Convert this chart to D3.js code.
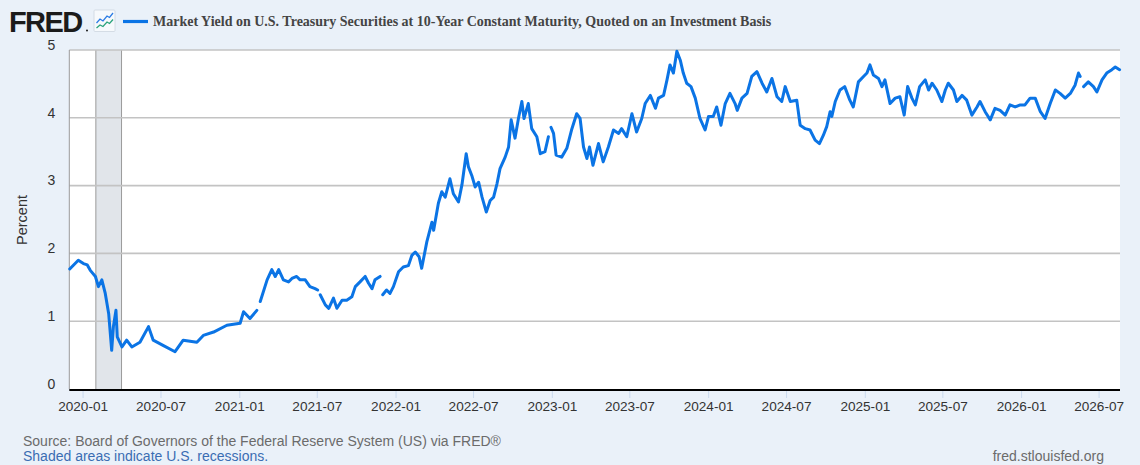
<!DOCTYPE html>
<html>
<head>
<meta charset="utf-8">
<script src="https://cdn.jsdelivr.net/npm/d3@7"></script>
<style>
  html, body { margin: 0; padding: 0; background: #eaf1f9; }
  svg { display: block; font-family: Arial, "Liberation Sans", sans-serif; }
</style>
</head>
<body>
<div id="chart"></div>
<script>
// DATA (null = gap in the series)
const dates = [
  '2019-12-02','2019-12-22','2020-01-03','2020-01-12','2020-01-19','2020-01-31','2020-02-07','2020-02-15','2020-02-23','2020-03-02',
  '2020-03-09','2020-03-13','2020-03-19','2020-03-22','2020-04-02','2020-04-13','2020-04-25','2020-05-14','2020-06-03','2020-06-14',
  '2020-07-08','2020-08-04','2020-08-23','2020-09-24','2020-10-09','2020-11-02','2020-12-03','2021-01-03','2021-01-11','2021-01-26',
  '2021-02-11','2021-02-15','2021-02-19','2021-03-07','2021-03-18','2021-03-26','2021-04-03','2021-04-14','2021-04-26','2021-05-04',
  '2021-05-15','2021-05-23','2021-06-04','2021-06-15','2021-06-27','2021-07-03','2021-07-06','2021-07-09','2021-07-21','2021-07-29',
  '2021-08-09','2021-08-17','2021-08-29','2021-09-09','2021-09-21','2021-09-29','2021-10-10','2021-10-22','2021-10-30','2021-11-07',
  '2021-11-14','2021-11-26','2021-11-29','2021-12-02','2021-12-11','2021-12-19','2021-12-27','2022-01-08','2022-01-19','2022-01-31',
  '2022-02-08','2022-02-16','2022-02-25','2022-03-03','2022-03-15','2022-03-27','2022-03-31','2022-04-11','2022-04-19','2022-04-27',
  '2022-05-08','2022-05-16','2022-05-28','2022-06-05','2022-06-15','2022-06-20','2022-06-28','2022-07-06','2022-07-14','2022-07-22',
  '2022-08-01','2022-08-10','2022-08-18','2022-08-26','2022-09-02','2022-09-14','2022-09-22','2022-09-28','2022-10-07','2022-10-15',
  '2022-10-23','2022-10-28','2022-11-07','2022-11-15','2022-11-27','2022-12-05','2022-12-16','2022-12-24','2022-12-27','2022-12-30',
  '2023-01-05','2023-01-11','2023-01-24','2023-02-05','2023-02-16','2023-02-28','2023-03-08','2023-03-16','2023-03-24','2023-03-30',
  '2023-04-07','2023-04-20','2023-05-01','2023-05-13','2023-05-25','2023-06-06','2023-06-13','2023-06-25','2023-07-07','2023-07-18',
  '2023-07-30','2023-08-07','2023-08-19','2023-08-31','2023-09-07','2023-09-19','2023-09-27','2023-10-04','2023-10-12','2023-10-20',
  '2023-10-28','2023-11-04','2023-11-12','2023-11-22','2023-12-02','2023-12-13','2023-12-25','2024-01-02','2024-01-13','2024-01-21',
  '2024-01-31','2024-02-10','2024-02-21','2024-03-04','2024-03-09','2024-03-20','2024-04-01','2024-04-12','2024-04-24','2024-05-06',
  '2024-05-17','2024-05-29','2024-06-10','2024-06-21','2024-06-29','2024-07-11','2024-07-26','2024-08-03','2024-08-15','2024-08-26',
  '2024-09-07','2024-09-17','2024-09-26','2024-10-04','2024-10-12','2024-10-16','2024-10-24','2024-11-04','2024-11-15','2024-11-27',
  '2024-12-05','2024-12-17','2024-12-29','2025-01-06','2025-01-13','2025-01-21','2025-02-02','2025-02-10','2025-02-17','2025-03-01',
  '2025-03-13','2025-03-24','2025-04-03','2025-04-11','2025-04-21','2025-04-29','2025-05-09','2025-05-22','2025-05-30','2025-06-07',
  '2025-06-18','2025-06-30','2025-07-08','2025-07-15','2025-07-27','2025-08-04','2025-08-16','2025-08-27','2025-09-08','2025-09-20',
  '2025-09-27','2025-10-09','2025-10-21','2025-11-01','2025-11-13','2025-11-25','2025-12-06','2025-12-18','2025-12-30','2026-01-10',
  '2026-01-22','2026-02-03','2026-02-15','2026-02-26','2026-03-10','2026-03-22','2026-04-02','2026-04-14','2026-04-26','2026-05-07',
  '2026-05-15','2026-05-19','2026-05-23','2026-05-27','2026-06-07','2026-06-19','2026-06-27','2026-07-09','2026-07-20','2026-08-01',
  '2026-08-09','2026-08-19'
];
const yields = [
  1.77, 1.90, 1.85, 1.83, 1.75, 1.66, 1.51, 1.61, 1.41, 1.11,
  0.57, 0.92, 1.16, 0.77, 0.62, 0.72, 0.62, 0.69, 0.92, 0.72,
  0.64, 0.55, 0.72, 0.69, 0.79, 0.84, 0.94, 0.97, 1.14, 1.04,
  1.16, null, 1.29, 1.61, 1.76, 1.66, 1.76, 1.61, 1.58, 1.63,
  1.66, 1.61, 1.61, 1.51, 1.48, 1.46, null, 1.39, 1.24, 1.19,
  1.34, 1.19, 1.31, 1.31, 1.36, 1.51, 1.58, 1.66, 1.56, 1.48,
  1.61, 1.66, null, 1.39, 1.46, 1.41, 1.51, 1.73, 1.80, 1.82,
  1.97, 2.02, 1.95, 1.78, 2.17, 2.46, 2.34, 2.74, 2.91, 2.83,
  3.10, 2.88, 2.76, 3.01, 3.47, 3.28, 3.15, 2.98, 3.05, 2.83,
  2.61, 2.78, 2.83, 3.03, 3.25, 3.42, 3.57, 3.97, 3.70, 3.99,
  4.24, 3.99, 4.21, 3.84, 3.72, 3.47, 3.50, 3.72, null, 3.86,
  3.77, 3.45, 3.42, 3.55, 3.82, 4.06, 3.99, 3.57, 3.40, 3.57,
  3.30, 3.62, 3.35, 3.57, 3.82, 3.77, 3.84, 3.72, 4.06, 3.79,
  3.99, 4.21, 4.33, 4.14, 4.29, 4.33, 4.56, 4.78, 4.66, 4.98,
  4.85, 4.66, 4.51, 4.46, 4.29, 3.99, 3.82, 4.02, 4.02, 4.16,
  3.89, 4.21, 4.36, 4.21, 4.11, 4.29, 4.36, 4.61, 4.68, 4.51,
  4.38, 4.58, 4.31, 4.24, 4.46, 4.24, 4.26, 3.89, 3.84, 3.82,
  3.67, 3.62, 3.74, 3.87, 4.09, 4.02, 4.24, 4.41, 4.46, 4.26,
  4.16, 4.53, 4.61, 4.66, 4.78, 4.63, 4.58, 4.46, 4.56, 4.21,
  4.29, 4.31, 4.04, 4.46, 4.29, 4.19, 4.46, 4.56, 4.41, 4.51,
  4.41, 4.24, 4.41, 4.51, 4.41, 4.24, 4.33, 4.26, 4.04, 4.16,
  4.24, 4.09, 3.97, 4.14, 4.11, 4.04, 4.19, 4.16, 4.19, 4.19,
  4.29, 4.29, 4.09, 3.99, 4.21, 4.41, 4.36, 4.29, 4.36, 4.48,
  4.66, 4.61, null, 4.46, 4.53, 4.46, 4.38, 4.56, 4.66, 4.71,
  4.75, 4.71
];
const recessions = [['2020-02-01', '2020-04-01']];
const xTickLabels = ['2020-01','2020-07','2021-01','2021-07','2022-01','2022-07','2023-01',
                     '2023-07','2024-01','2024-07','2025-01','2025-07','2026-01','2026-07'];
const yTicks = [0, 1, 2, 3, 4, 5];
const xDomain = ['2019-12-01', '2026-08-20'];

const title = 'Market Yield on U.S. Treasury Securities at 10-Year Constant Maturity, Quoted on an Investment Basis';

// DIMENSIONS
const width = 1140, height = 465;
const plot = { left: 69.3, right: 1120, top: 50, bottom: 389 };

const parse = d3.timeParse('%Y-%m-%d');
const parseMonth = d3.timeParse('%Y-%m');
const data = dates.map((d, i) => ({ date: parse(d), value: yields[i] }));

const svg = d3.select('#chart').append('svg')
  .attr('width', width)
  .attr('height', height);

svg.append('rect').attr('width', width).attr('height', height).attr('fill', '#eaf1f9');

// SCALES
const x = d3.scaleTime()
  .domain(xDomain.map(parse))
  .range([plot.left, plot.right]);
const y = d3.scaleLinear()
  .domain([0, 5])
  .range([plot.bottom, plot.top]);

// PLOT BACKGROUND
svg.append('rect')
  .attr('x', plot.left).attr('y', plot.top)
  .attr('width', plot.right - plot.left).attr('height', plot.bottom - plot.top)
  .attr('fill', '#ffffff');

// RECESSION SHADING
recessions.forEach(r => {
  const x0 = x(parse(r[0])), x1 = x(parse(r[1]));
  svg.append('rect')
    .attr('x', x0).attr('y', plot.top)
    .attr('width', x1 - x0).attr('height', plot.bottom - plot.top)
    .attr('fill', '#e1e5ea');
  [x0, x1].forEach(xx => svg.append('line')
    .attr('x1', xx).attr('x2', xx).attr('y1', plot.top).attr('y2', plot.bottom)
    .attr('stroke', '#9a9a9a').attr('stroke-width', 1));
});

// Y GRID + LABELS
const yAxis = svg.append('g')
  .attr('transform', `translate(${plot.left},0)`)
  .call(d3.axisLeft(y).tickValues(yTicks).tickFormat(d3.format('d')).tickSize(0).tickPadding(0));
yAxis.select('.domain').remove();
yAxis.selectAll('.tick text')
  .attr('x', -14).attr('dy', '-0.05em')
  .attr('fill', '#333').style('font-size', '14px');

svg.append('g')
  .selectAll('line')
  .data(yTicks.filter(v => v > 0))
  .join('line')
  .attr('x1', plot.left).attr('x2', plot.right)
  .attr('y1', d => y(d)).attr('y2', d => y(d))
  .attr('stroke', '#c3c3c3').attr('stroke-width', 1.6);

// LEFT AXIS LINE
svg.append('line')
  .attr('x1', plot.left).attr('x2', plot.left)
  .attr('y1', plot.top).attr('y2', plot.bottom)
  .attr('stroke', '#9a9a9a').attr('stroke-width', 1);

// SERIES LINE
const line = d3.line()
  .defined(d => d.value !== null)
  .x(d => x(d.date))
  .y(d => y(d.value));

svg.append('path')
  .datum(data)
  .attr('d', line)
  .attr('fill', 'none')
  .attr('stroke', '#0b74e5')
  .attr('stroke-width', 3)
  .attr('stroke-linejoin', 'round')
  .attr('stroke-linecap', 'round');

// X AXIS
const xAxis = svg.append('g')
  .attr('transform', `translate(0,${plot.bottom + 1})`)
  .call(d3.axisBottom(x)
    .tickValues(xTickLabels.map(parseMonth))
    .tickFormat(d3.timeFormat('%Y-%m'))
    .tickSize(8).tickPadding(3));
xAxis.select('.domain').remove();
xAxis.selectAll('.tick line').attr('stroke', '#c9d9ee').attr('stroke-width', 1);
xAxis.selectAll('.tick text').attr('fill', '#333').style('font-size', '13.6px');

svg.append('line')
  .attr('x1', plot.left).attr('x2', plot.right)
  .attr('y1', plot.bottom + 1).attr('y2', plot.bottom + 1)
  .attr('stroke', '#000').attr('stroke-width', 2);

// Y LABEL
svg.append('text')
  .attr('transform', `translate(27,220)rotate(-90)`)
  .attr('text-anchor', 'middle')
  .attr('fill', '#333')
  .style('font-size', '14.5px')
  .text('Percent');

// HEADER: LOGO
svg.append('text')
  .attr('x', 9).attr('y', 31.5)
  .attr('fill', '#1b1b1b')
  .style('font-size', '29px').style('font-weight', 'bold')
  .style('letter-spacing', '-1.6px')
  .text('FRED');
svg.append('circle').attr('cx', 87).attr('cy', 30.5).attr('r', 1).attr('fill', '#1b1b1b');

const icon = svg.append('g').attr('transform', 'translate(94,10)');
icon.append('rect').attr('width', 21).attr('height', 21.5).attr('rx', 1)
  .attr('fill', '#f6f9fc').attr('stroke', '#cdd6e0').attr('stroke-width', 0.8);
icon.append('path')
  .attr('d', 'M2.5,13 L6,9 L9,11 L13,6 L15.5,7.5 L19,3')
  .attr('fill', 'none').attr('stroke', '#2a7be4').attr('stroke-width', 1.3);
icon.append('path')
  .attr('d', 'M2.5,18 L6,15 L9,16.5 L13,12 L15.5,13.5 L19,9.5')
  .attr('fill', 'none').attr('stroke', '#2aa37c').attr('stroke-width', 1.3);

// HEADER: LEGEND + TITLE
svg.append('line')
  .attr('x1', 123).attr('x2', 148).attr('y1', 21.5).attr('y2', 21.5)
  .attr('stroke', '#0b74e5').attr('stroke-width', 3.2);
svg.append('text')
  .attr('x', 153).attr('y', 25.5)
  .attr('fill', '#444')
  .style('font-family', '"Liberation Serif", "Times New Roman", serif')
  .style('font-size', '14px').style('font-weight', 'bold')
  .text(title);

// FOOTER
svg.append('text')
  .attr('x', 23).attr('y', 445.5)
  .attr('fill', '#6b6b6b').style('font-size', '14px')
  .text('Source: Board of Governors of the Federal Reserve System (US) via FRED®');
svg.append('text')
  .attr('x', 23).attr('y', 460.5)
  .attr('fill', '#3a6db3').style('font-size', '14px')
  .text('Shaded areas indicate U.S. recessions.');
svg.append('text')
  .attr('x', 1104).attr('y', 460.5)
  .attr('text-anchor', 'end')
  .attr('fill', '#6b6b6b').style('font-size', '14px')
  .text('fred.stlouisfed.org');
</script>
</body>
</html>
